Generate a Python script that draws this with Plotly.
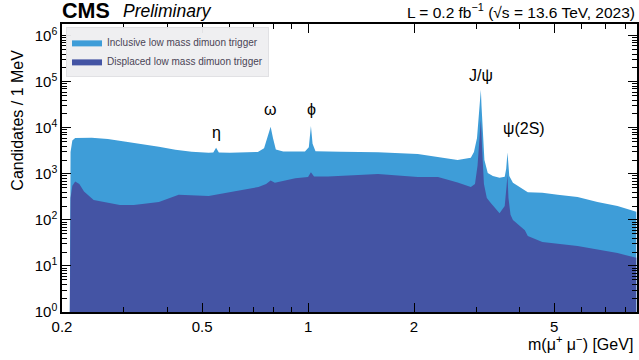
import numpy as np
import plotly.graph_objects as go

# ---- data ----
incl_mass = [0.2105, 0.2115, 0.214, 0.218, 0.243, 0.270, 0.304, 0.340, 0.377, 0.420, 0.467,
             0.522, 0.538, 0.548, 0.558, 0.600, 0.647, 0.720, 0.750, 0.770, 0.783, 0.795,
             0.810, 0.850, 0.897, 0.980, 1.005, 1.019, 1.030, 1.050, 1.240, 1.580, 2.050,
             2.340, 2.660, 2.900, 2.960, 3.020, 3.060, 3.085, 3.097, 3.110, 3.135, 3.170,
             3.240, 3.350, 3.500, 3.620, 3.655, 3.676, 3.686, 3.700, 3.730, 3.820, 4.130,
             4.210, 4.630, 5.120, 5.830, 6.640, 7.570, 8.560]
incl_vals = [1, 3000, 5300, 6000, 6100, 5700, 4960, 4400, 3860, 3350, 3010,
             2860, 2900, 3700, 2900, 2870, 2900, 3000, 3600, 7000, 10500, 6000,
             3400, 3050, 3010, 3050, 3800, 11000, 4500, 3100, 3010, 2950, 2700,
             2340, 2000, 2230, 3000, 6000, 20000, 45000, 67000, 30000, 8000, 2000,
             1050, 900, 820, 870, 1300, 2300, 2900, 2000, 900, 640, 450,
             400, 390, 350, 316, 245, 200, 150]

disp_mass = [0.2105, 0.2115, 0.214, 0.218, 0.224, 0.231, 0.246, 0.268, 0.292, 0.320, 0.377,
             0.429, 0.522, 0.620, 0.723, 0.760, 0.783, 0.805, 0.920, 1.000, 1.019, 1.040,
             1.140, 1.390, 1.580, 2.050, 2.340, 2.660, 2.900, 2.980, 3.030, 3.070, 3.097,
             3.120, 3.160, 3.220, 3.300, 3.500, 3.620, 3.660, 3.686, 3.710, 3.760, 3.820,
             4.130, 4.210, 4.630, 5.830, 7.570, 8.560]
disp_vals = [1, 300, 550, 680, 600, 412, 270, 235, 210, 210, 245,
             350, 330, 420, 520, 600, 715, 640, 800, 860, 1090, 880,
             875, 950, 1000, 860, 860, 650, 520, 600, 1500, 6000, 15000,
             4000, 600, 300, 235, 140, 200, 500, 950, 300, 130, 100,
             60, 45, 33, 27, 19, 15]

x_ticks = [0.2, 0.5, 1, 2, 5]
x_ticktext = ["0.2", "0.5", "1", "2", "5"]
x_minor = [0.3, 0.4, 0.6, 0.7, 0.8, 0.9, 3, 4, 6, 7, 8]
y_ticks = [1, 10, 100, 1000, 1e4, 1e5, 1e6]
y_ticktext = ["10<sup>0</sup>", "10<sup>1</sup>", "10<sup>2</sup>", "10<sup>3</sup>",
              "10<sup>4</sup>", "10<sup>5</sup>", "10<sup>6</sup>"]
y_minor = [m * 10 ** d for d in range(0, 7) for m in range(2, 10)]

peak_labels = ["η", "ω", "ϕ", "J/ψ", "ψ(2S)"]
peak_x = [0.548, 0.783, 1.02, 3.10, 4.10]
peak_y = [7800, 24500, 24500, 140000, 9500]

LIGHT = "rgb(62,157,216)"
DARK = "rgb(68,84,164)"
FONT = "Liberation Sans"

fig = go.Figure()
fig.add_trace(go.Scatter(x=incl_mass, y=incl_vals, mode="lines", line=dict(width=0, color=LIGHT),
                         fill="tozeroy", fillcolor=LIGHT, name="Inclusive low mass dimuon trigger"))
fig.add_trace(go.Scatter(x=disp_mass, y=disp_vals, mode="lines", line=dict(width=0, color=DARK),
                         fill="tozeroy", fillcolor=DARK, name="Displaced low mass dimuon trigger"))

ann = []
for t, x, y in zip(peak_labels, peak_x, peak_y):
    ann.append(dict(text=t, x=np.log10(x), y=np.log10(y), xref="x", yref="y", showarrow=False,
                    font=dict(size=16, color="black", family=FONT)))
ann.append(dict(text="<b>CMS</b>", x=-0.004, y=0.997, xref="paper", yref="paper", xanchor="left",
                yanchor="bottom", showarrow=False, font=dict(size=21.5, color="black", family=FONT)))
ann.append(dict(text="<i>Preliminary</i>", x=0.102, y=1.003, xref="paper", yref="paper", xanchor="left",
                yanchor="bottom", showarrow=False, font=dict(size=17.5, color="black", family=FONT)))
ann.append(dict(text="L = 0.2 fb<sup>−1</sup> (√s = 13.6 TeV, 2023)", x=1.0, y=1.003, xref="paper",
                yref="paper", xanchor="right", yanchor="bottom", showarrow=False,
                font=dict(size=15.5, color="black", family=FONT)))
ann.append(dict(text="m(μ<sup>+</sup> μ<sup>−</sup>) [GeV]", x=0.997, y=-0.065, xref="paper",
                yref="paper", xanchor="right", yanchor="top", showarrow=False,
                font=dict(size=16, color="black", family=FONT)))
ann.append(dict(text="Candidates / 1 MeV", x=-0.077, y=0.667, xref="paper", yref="paper",
                xanchor="center", yanchor="middle", textangle=-90, showarrow=False,
                font=dict(size=16, color="black", family=FONT)))

fig.update_layout(
    width=639, height=360,
    margin=dict(l=62, r=0, t=24, b=48),
    paper_bgcolor="white", plot_bgcolor="white",
    font=dict(family=FONT, color="black", size=15),
    showlegend=True,
    legend=dict(x=0.007, y=0.99, xanchor="left", yanchor="top", bgcolor="rgba(238,238,240,0.95)",
                bordercolor="rgba(225,225,228,1)", borderwidth=1, font=dict(size=10, color="#4a4456"),
                tracegroupgap=0, itemwidth=30),
    annotations=ann,
)
fig.update_xaxes(type="log", range=[np.log10(0.2), np.log10(8.6)], tickvals=x_ticks, ticktext=x_ticktext,
                 ticks="inside", ticklen=9, tickcolor="black", showline=True, linecolor="black",
                 linewidth=1.5, mirror="ticks", showgrid=False, zeroline=False,
                 tickfont=dict(size=15, family=FONT),
                 minor=dict(tickvals=x_minor, ticks="inside", ticklen=5, tickcolor="black", showgrid=False))
fig.update_yaxes(type="log", range=[0, np.log10(1.8e6)], tickvals=y_ticks, ticktext=y_ticktext,
                 ticks="inside", ticklen=9, tickcolor="black", showline=True, linecolor="black",
                 linewidth=1.5, mirror="ticks", showgrid=False, zeroline=False,
                 tickfont=dict(size=15, family=FONT),
                 minor=dict(tickvals=y_minor, ticks="inside", ticklen=5, tickcolor="black", showgrid=False))

fig.write_html("out.html", config={"displayModeBar": False},
               post_script="document.body.style.margin='0';document.body.style.overflow='hidden';")
